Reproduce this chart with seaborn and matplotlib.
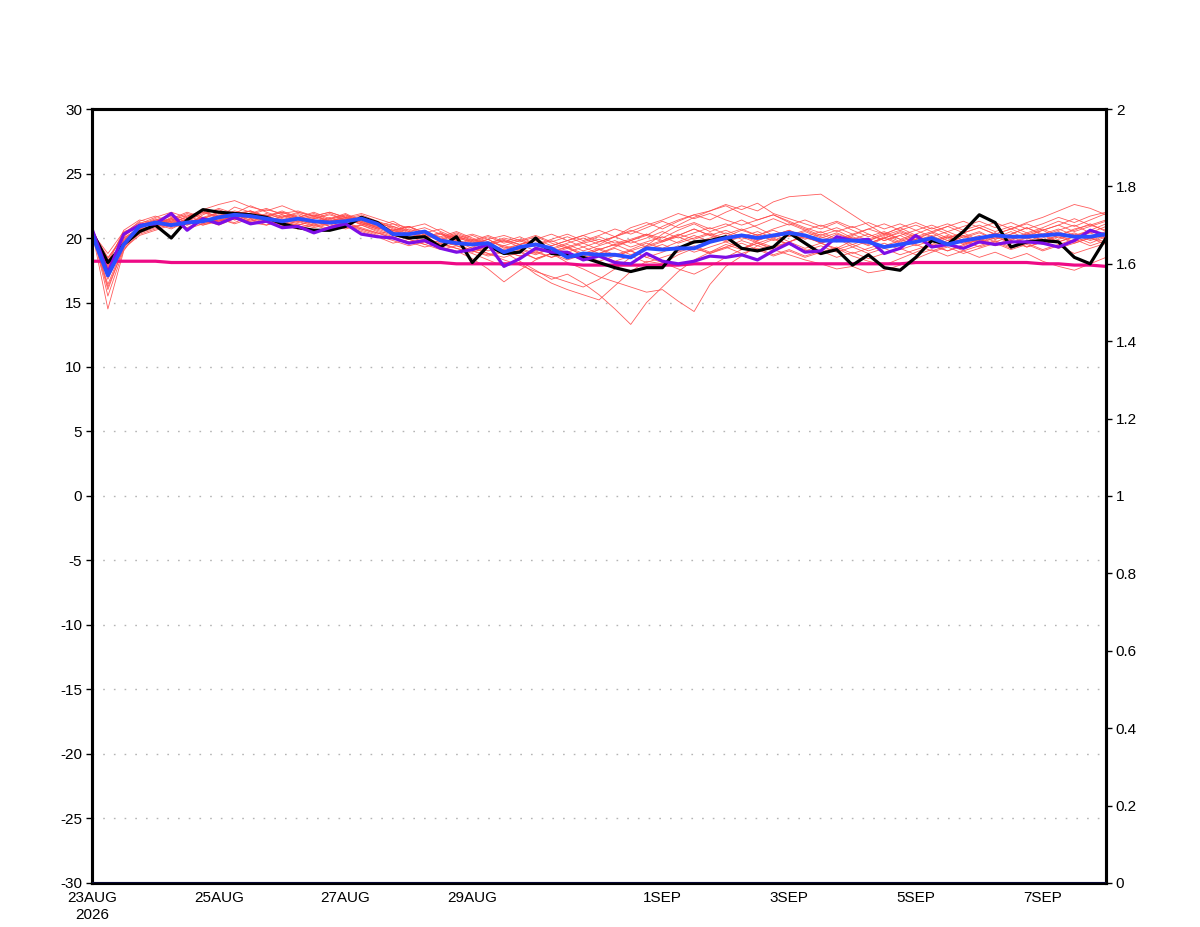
import numpy as np
import pandas as pd
import matplotlib
matplotlib.use("Agg")
import matplotlib.pyplot as plt
import seaborn as sns

# 6-hourly time axis, 23AUG2026 00Z .. 8SEP2026 00Z
times = pd.date_range("2026-08-23", periods=65, freq="6h")

tick_dates = ["2026-08-23", "2026-08-25", "2026-08-27", "2026-08-29",
              "2026-09-01", "2026-09-03", "2026-09-05", "2026-09-07"]
tick_labels = ["23AUG\n2026", "25AUG", "27AUG", "29AUG", "1SEP", "3SEP", "5SEP", "7SEP"]

black_line = [20.5, 18.1, 19.5, 20.5, 21.0, 20.0, 21.4, 22.2, 22.0, 21.9, 21.8, 21.6, 21.1,
              20.8, 20.6, 20.6, 20.9, 21.6, 21.2, 20.3, 20.0, 20.1, 19.3, 20.1, 18.1, 19.4,
              18.8, 18.9, 20.0, 18.8, 18.7, 18.5, 18.1, 17.7, 17.4, 17.7, 17.7, 19.2, 19.7,
              19.8, 20.1, 19.2, 19.0, 19.3, 20.4, 19.6, 18.8, 19.1, 17.9, 18.7, 17.7, 17.5,
              18.5, 19.8, 19.5, 20.5, 21.8, 21.2, 19.3, 19.7, 19.8, 19.7, 18.5, 18.0, 20.0]

blue_line = [20.3, 17.1, 19.5, 20.9, 21.2, 21.0, 21.2, 21.3, 21.6, 21.8, 21.7, 21.5, 21.3,
             21.5, 21.3, 21.2, 21.3, 21.5, 21.1, 20.3, 20.3, 20.5, 19.8, 19.6, 19.5, 19.6,
             18.9, 19.3, 19.5, 19.2, 18.5, 18.8, 18.7, 18.7, 18.5, 19.2, 19.1, 19.2, 19.2,
             19.7, 20.0, 20.2, 20.0, 20.2, 20.4, 20.2, 19.8, 19.8, 19.8, 19.7, 19.3, 19.5,
             19.7, 20.0, 19.5, 19.8, 20.0, 20.2, 20.1, 20.1, 20.2, 20.3, 20.1, 20.1, 20.3]

purple_line = [20.7, 17.3, 20.3, 21.0, 21.1, 21.9, 20.6, 21.5, 21.1, 21.6, 21.1, 21.3, 20.8,
               20.9, 20.4, 20.8, 21.1, 20.3, 20.1, 20.0, 19.6, 19.8, 19.2, 18.9, 19.1, 19.5,
               17.8, 18.4, 19.2, 18.9, 18.9, 18.3, 18.6, 18.1, 18.0, 18.8, 18.2, 18.0, 18.2,
               18.6, 18.5, 18.7, 18.3, 19.0, 19.6, 18.9, 19.0, 20.1, 19.8, 19.9, 18.8, 19.2,
               20.2, 19.3, 19.5, 19.2, 19.7, 19.5, 19.7, 19.7, 19.6, 19.3, 19.8, 20.6, 20.2]

pink_line = [18.2, 18.2, 18.2, 18.2, 18.2, 18.1, 18.1, 18.1, 18.1, 18.1, 18.1, 18.1, 18.1,
             18.1, 18.1, 18.1, 18.1, 18.1, 18.1, 18.1, 18.1, 18.1, 18.1, 18.0, 18.0, 18.0,
             18.0, 18.0, 18.0, 18.0, 18.0, 17.9, 17.9, 17.9, 17.9, 17.9, 17.9, 17.9, 18.0,
             18.0, 18.0, 18.0, 18.0, 18.0, 18.0, 18.0, 18.0, 18.0, 18.0, 18.0, 18.0, 18.0,
             18.1, 18.1, 18.1, 18.1, 18.1, 18.1, 18.1, 18.1, 18.0, 18.0, 17.9, 17.9, 17.8]

# right-axis series lying on zero
bottom_line = [0.0, 0.0, 0.0, 0.0, 0.0, 0.0, 0.0, 0.0, 0.0, 0.0, 0.0, 0.0, 0.0,
               0.0, 0.0, 0.0, 0.0, 0.0, 0.0, 0.0, 0.0, 0.0, 0.0, 0.0, 0.0, 0.0,
               0.0, 0.0, 0.0, 0.0, 0.0, 0.0, 0.0, 0.0, 0.0, 0.0, 0.0, 0.0, 0.0,
               0.0, 0.0, 0.0, 0.0, 0.0, 0.0, 0.0, 0.0, 0.0, 0.0, 0.0, 0.0, 0.0,
               0.0, 0.0, 0.0, 0.0, 0.0, 0.0, 0.0, 0.0, 0.0, 0.0, 0.0, 0.0, 0.0]

members = [
    [20.5, 14.5, 19.0, 20.8, 21.2, 21.5, 21.0, 21.8, 22.3, 21.9, 22.1, 21.6, 21.4,
     21.8, 21.2, 21.5, 21.9, 21.3, 20.8, 20.5, 20.9, 20.2, 19.8, 20.1, 19.6, 19.9,
     19.2, 19.5, 19.8, 19.0, 19.3, 18.6, 19.1, 19.5, 19.8, 20.3, 20.0, 20.6, 21.1,
     20.5, 20.9, 21.4, 20.8, 20.2, 20.6, 20.0, 19.7, 20.3, 19.9, 19.4, 20.0, 20.4,
     19.8, 20.2, 19.6, 20.1, 20.5, 19.9, 20.3, 20.8, 20.2, 20.6, 21.0, 20.4, 20.9],
    [20.4, 16.0, 19.3, 20.6, 20.9, 21.3, 21.8, 21.2, 21.6, 22.0, 21.5, 21.8, 21.2,
     21.0, 21.4, 20.9, 21.2, 20.7, 20.4, 20.0, 19.7, 19.9, 19.3, 19.6, 19.0, 18.6,
     18.9, 18.2, 17.5, 16.8, 17.2, 16.5, 15.6, 14.5, 13.3, 15.0, 16.2, 17.4, 18.3,
     18.9, 19.5, 19.1, 19.8, 20.3, 19.7, 20.2, 19.6, 19.2, 19.8, 19.5, 20.1, 19.6,
     19.9, 20.4, 19.8, 20.2, 19.6, 20.0, 20.5, 19.9, 20.3, 19.7, 20.1, 20.6, 20.0],
    [20.6, 17.5, 20.2, 21.0, 21.5, 21.1, 21.7, 22.1, 21.6, 22.4, 22.0, 21.7, 22.1,
     21.6, 21.9, 21.4, 21.8, 21.2, 20.9, 21.3, 20.6, 20.1, 20.4, 19.8, 19.5, 19.9,
     19.3, 19.0, 18.4, 18.8, 18.1, 17.6, 17.0, 16.6, 16.2, 15.8, 16.0, 15.1, 14.3,
     16.4, 17.8, 18.6, 19.4, 19.0, 19.7, 20.2, 19.6, 20.0, 19.3, 19.8, 20.3, 19.7,
     20.1, 19.5, 20.0, 20.4, 19.8, 20.2, 19.6, 20.1, 20.6, 20.0, 20.4, 19.9, 20.3],
    [20.5, 18.2, 20.4, 21.2, 21.0, 21.6, 21.3, 21.9, 22.2, 21.7, 21.9, 22.3, 21.8,
     21.5, 21.2, 21.6, 21.1, 21.4, 20.9, 20.6, 20.2, 20.5, 19.9, 20.2, 19.7, 19.4,
     19.8, 19.5, 19.9, 20.3, 19.8, 20.2, 20.6, 20.1, 20.8, 21.2, 20.7, 21.3, 21.8,
     21.4, 22.0, 22.5, 22.1, 22.8, 23.2, 23.3, 23.4, 22.6, 21.8, 21.0, 20.3, 20.8,
     20.2, 19.7, 20.1, 19.5, 19.9, 20.4, 19.8, 20.3, 20.7, 20.2, 20.6, 21.1, 20.5],
    [20.5, 17.0, 19.8, 20.9, 21.4, 21.8, 21.4, 22.0, 21.5, 21.9, 22.5, 22.0, 21.6,
     22.0, 21.7, 21.3, 21.6, 21.0, 21.3, 20.7, 20.3, 20.0, 19.6, 19.9, 19.4, 19.0,
     19.4, 19.1, 18.7, 19.2, 19.6, 20.0, 19.5, 20.1, 20.6, 20.2, 20.9, 21.4, 21.8,
     22.1, 22.6, 22.2, 22.7, 21.9, 21.5, 21.1, 20.7, 21.2, 20.6, 20.1, 20.5, 19.9,
     19.4, 19.8, 20.2, 19.6, 20.0, 19.5, 19.9, 20.4, 19.8, 20.2, 20.7, 21.0, 20.6],
    [20.4, 16.8, 19.6, 20.5, 21.1, 20.7, 21.3, 21.0, 21.4, 21.2, 21.7, 21.3, 21.0,
     21.3, 20.9, 21.2, 20.8, 21.0, 20.5, 20.1, 19.6, 19.9, 19.5, 19.2, 18.8, 18.3,
     17.8, 18.1, 17.2, 16.5, 16.0, 15.6, 15.2, 16.3, 17.4, 18.2, 18.0, 18.7, 19.2,
     18.8, 19.3, 19.8, 19.4, 19.9, 19.5, 19.1, 18.7, 19.2, 18.6, 18.2, 17.9, 18.4,
     18.9, 19.4, 19.0, 19.5, 19.9, 19.4, 19.8, 19.3, 19.7, 20.1, 19.6, 20.0, 19.7],
    [20.5, 18.5, 20.0, 20.7, 21.0, 21.4, 21.9, 21.5, 22.0, 21.6, 21.3, 21.7, 21.2,
     21.4, 21.0, 21.3, 21.7, 21.2, 20.8, 20.4, 20.7, 20.3, 19.9, 20.3, 19.8, 19.5,
     19.8, 19.3, 19.6, 19.1, 19.5, 19.0, 19.4, 19.8, 19.3, 19.7, 20.1, 19.6, 20.0,
     20.4, 19.9, 20.3, 19.8, 20.2, 20.6, 20.1, 20.5, 19.9, 20.3, 19.8, 20.2, 20.6,
     20.1, 20.5, 20.0, 20.4, 20.8, 20.3, 20.7, 21.2, 21.6, 22.1, 22.6, 22.3, 21.8],
    [20.6, 15.5, 19.1, 20.4, 20.8, 21.2, 20.8, 21.4, 21.1, 21.6, 21.2, 21.5, 21.1,
     20.8, 21.1, 20.7, 21.0, 20.6, 20.2, 19.8, 19.4, 19.7, 19.2, 18.9, 19.3, 18.8,
     18.5, 18.9, 18.4, 18.8, 18.3, 18.7, 18.2, 18.6, 19.0, 18.5, 18.9, 19.4, 18.9,
     19.3, 19.7, 19.2, 19.6, 19.1, 18.7, 18.3, 18.0, 17.6, 17.8, 17.3, 17.5, 17.9,
     18.4, 18.9, 19.3, 18.8, 19.2, 19.6, 19.1, 19.5, 19.0, 19.4, 18.8, 19.2, 19.6],
    [20.5, 17.8, 20.1, 21.1, 21.6, 22.0, 21.6, 22.2, 22.6, 22.9, 22.4, 22.1, 22.5,
     22.0, 21.7, 22.0, 21.6, 21.9, 21.5, 21.1, 20.8, 21.1, 20.5, 20.0, 19.7, 20.1,
     19.6, 19.9, 19.4, 19.8, 19.3, 19.7, 20.1, 19.6, 19.9, 20.3, 19.8, 20.2, 20.7,
     20.2, 20.6, 20.1, 20.5, 20.0, 20.4, 19.9, 20.3, 19.8, 20.2, 20.7, 20.3, 20.8,
     21.2, 20.7, 21.1, 20.6, 21.0, 20.5, 20.9, 20.4, 20.8, 21.3, 20.9, 21.4, 21.9],
    [20.4, 18.8, 20.5, 20.9, 21.3, 20.9, 21.5, 21.1, 21.4, 21.8, 21.4, 21.9, 21.5,
     21.2, 21.5, 21.9, 21.4, 21.7, 21.2, 20.8, 20.3, 20.6, 20.0, 20.4, 19.9, 19.6,
     20.0, 19.7, 20.1, 19.6, 19.2, 19.6, 19.1, 19.5, 19.0, 19.4, 19.8, 20.3, 19.9,
     20.3, 19.8, 20.2, 19.7, 19.3, 19.7, 19.2, 19.6, 20.0, 19.5, 19.9, 20.4, 19.9,
     20.3, 20.8, 20.3, 19.8, 20.2, 19.7, 20.1, 19.6, 20.0, 20.5, 20.0, 20.4, 19.9],
    [20.6, 17.2, 19.9, 20.7, 21.3, 21.7, 21.2, 21.6, 21.3, 21.7, 22.1, 21.7, 22.0,
     21.5, 21.8, 21.3, 21.5, 21.1, 20.7, 20.9, 20.4, 20.0, 20.3, 19.7, 19.2, 18.8,
     18.3, 17.9, 17.4, 17.0, 16.6, 16.2, 16.8, 17.6, 18.5, 19.4, 20.3, 21.0, 21.6,
     22.1, 22.5, 21.9, 21.4, 21.8, 21.2, 20.7, 20.2, 20.6, 20.0, 19.6, 20.0, 19.5,
     19.9, 19.4, 19.8, 20.2, 19.7, 20.1, 19.6, 20.0, 19.5, 19.9, 20.3, 19.8, 20.2],
    [20.5, 17.9, 19.7, 20.6, 21.0, 21.4, 21.1, 21.5, 21.9, 21.4, 21.8, 21.3, 21.7,
     21.3, 21.6, 21.2, 21.5, 21.8, 21.3, 20.9, 20.5, 20.1, 20.4, 19.8, 20.2, 19.7,
     19.4, 19.8, 19.3, 18.9, 19.3, 18.8, 19.2, 18.7, 19.1, 19.6, 19.2, 19.7, 20.2,
     19.7, 20.1, 20.6, 20.2, 20.7, 21.1, 20.6, 21.0, 20.5, 20.9, 20.3, 19.8, 20.2,
     19.6, 20.0, 19.5, 19.0, 19.4, 19.8, 19.3, 19.7, 20.2, 19.7, 20.1, 19.6, 20.1],
    [20.4, 16.4, 19.4, 20.5, 20.9, 21.3, 21.0, 21.4, 21.0, 21.5, 21.1, 21.4, 21.0,
     20.7, 21.0, 20.6, 20.9, 20.5, 20.1, 19.6, 19.9, 19.5, 19.1, 19.4, 19.0, 18.7,
     19.0, 18.6, 18.9, 18.5, 18.9, 19.3, 18.8, 19.2, 18.7, 19.1, 19.5, 19.0, 19.4,
     18.9, 19.3, 18.8, 19.2, 18.7, 19.1, 18.6, 19.0, 18.5, 18.9, 18.4, 18.8, 19.2,
     18.7, 19.1, 18.6, 19.0, 18.5, 18.9, 18.4, 18.8, 18.2, 17.8, 17.5, 18.0, 18.5],
    [20.5, 18.4, 20.3, 21.3, 21.7, 21.2, 21.6, 22.0, 21.7, 22.1, 21.8, 22.2, 21.9,
     22.1, 21.7, 22.0, 21.6, 21.3, 21.0, 20.6, 20.9, 20.4, 20.7, 20.1, 19.8, 20.2,
     19.7, 20.1, 19.5, 19.9, 20.3, 19.8, 20.2, 20.7, 20.3, 20.8, 21.3, 20.8, 21.2,
     20.7, 21.1, 20.6, 21.0, 21.5, 21.0, 21.4, 20.9, 21.3, 20.8, 21.2, 20.7, 21.1,
     20.6, 21.0, 20.5, 20.9, 21.3, 20.8, 21.2, 20.7, 21.1, 21.6, 21.2, 21.7, 22.0],
    [20.6, 17.6, 20.0, 20.8, 21.2, 20.8, 21.2, 21.6, 21.2, 21.6, 21.3, 21.6, 21.2,
     21.5, 21.1, 21.4, 21.0, 20.7, 20.3, 20.6, 20.1, 19.7, 19.3, 19.0, 18.4, 17.6,
     16.6, 17.5, 18.3, 18.8, 19.2, 18.7, 19.1, 18.6, 19.0, 18.5, 18.1, 17.6, 17.2,
     17.8, 18.5, 19.1, 19.6, 19.2, 19.7, 20.1, 19.6, 19.1, 19.5, 19.0, 19.4, 19.8,
     20.2, 19.7, 20.1, 19.6, 20.0, 20.4, 19.9, 20.3, 19.8, 20.2, 19.7, 20.1, 20.5],
    [20.5, 17.4, 20.2, 21.0, 21.4, 21.0, 21.5, 21.2, 21.8, 21.4, 21.7, 21.3, 21.6,
     21.9, 21.5, 21.8, 21.4, 21.1, 20.7, 20.3, 20.0, 20.3, 19.8, 19.5, 19.9, 19.4,
     19.1, 19.5, 19.0, 19.4, 19.8, 20.2, 19.7, 20.1, 20.5, 21.0, 21.4, 21.9, 21.5,
     21.9, 21.4, 21.0, 21.4, 21.8, 21.3, 20.8, 20.4, 20.8, 20.3, 20.7, 21.1, 20.6,
     21.0, 20.5, 20.9, 21.3, 20.8, 21.2, 20.7, 21.1, 20.6, 21.0, 21.5, 21.0, 21.4],
    [20.4, 17.1, 19.5, 20.3, 20.7, 21.1, 20.7, 21.1, 21.5, 21.1, 21.5, 21.0, 21.3,
     21.0, 21.3, 20.9, 21.2, 20.8, 20.4, 20.0, 19.7, 19.3, 19.6, 19.2, 18.9, 19.3,
     18.9, 19.2, 18.8, 19.2, 18.7, 18.3, 18.7, 18.2, 18.6, 18.1, 18.5, 18.9, 19.3,
     18.8, 19.2, 19.6, 19.1, 18.6, 19.0, 18.5, 18.9, 19.3, 18.8, 19.2, 19.6, 19.1,
     19.5, 19.0, 19.4, 19.8, 19.3, 19.7, 19.2, 19.6, 19.1, 19.5, 19.9, 19.4, 19.8],
    [20.6, 18.0, 20.6, 21.4, 21.1, 21.5, 22.0, 21.6, 22.0, 21.5, 21.9, 21.5, 21.8,
     21.4, 21.7, 21.3, 21.6, 21.2, 20.8, 21.1, 20.5, 20.8, 20.3, 20.0, 20.3, 19.9,
     20.2, 19.8, 20.2, 19.7, 20.1, 19.6, 19.9, 19.4, 19.8, 20.2, 19.7, 20.1, 19.6,
     20.0, 20.4, 19.9, 20.3, 19.8, 20.2, 20.6, 20.1, 19.7, 20.1, 19.6, 20.0, 20.5,
     20.0, 20.4, 20.9, 20.4, 20.8, 20.3, 20.7, 20.2, 20.6, 21.0, 20.5, 20.9, 21.3],
    [20.5, 16.2, 19.2, 20.2, 20.6, 21.0, 21.4, 21.0, 21.3, 21.7, 21.2, 21.0, 21.4,
     21.1, 20.8, 21.1, 20.7, 21.0, 20.6, 20.2, 19.9, 19.5, 19.8, 19.4, 19.0, 19.4,
     19.0, 18.6, 19.0, 18.5, 18.9, 18.4, 18.8, 19.3, 19.8, 19.3, 19.7, 20.2, 20.7,
     20.2, 19.7, 20.1, 19.6, 20.0, 19.5, 19.0, 19.4, 18.9, 19.3, 18.8, 19.2, 18.7,
     19.1, 19.5, 19.0, 19.4, 19.9, 19.4, 19.8, 19.3, 19.7, 19.2, 19.6, 20.0, 19.5],
    [20.5, 17.7, 19.8, 20.6, 21.0, 21.5, 21.1, 21.6, 21.3, 21.8, 22.1, 21.6, 22.0,
     21.6, 22.0, 21.5, 21.8, 21.4, 21.0, 20.6, 20.9, 20.4, 20.1, 20.5, 20.0, 19.6,
     19.9, 19.5, 19.9, 19.4, 19.8, 19.3, 19.7, 20.1, 19.6, 20.0, 20.5, 20.0, 20.4,
     20.8, 20.3, 20.7, 20.2, 20.6, 20.1, 20.5, 20.0, 20.4, 19.9, 20.3, 19.8, 20.2,
     20.6, 20.1, 20.5, 20.0, 20.4, 19.9, 20.3, 20.8, 20.3, 20.7, 20.2, 20.6, 21.1],
]

ens = pd.concat(
    [pd.DataFrame({"time": times, "value": m, "member": k}) for k, m in enumerate(members)],
    ignore_index=True,
)

sns.set_style("white")
plt.rcParams["font.family"] = ["Liberation Sans", "DejaVu Sans"]
plt.rcParams["axes.unicode_minus"] = False

fig = plt.figure(figsize=(12, 9.27), dpi=100)
ax = fig.add_axes([0.0767, 0.0475, 0.8450, 0.8349])

# dotted horizontal grid
for yv in range(-25, 30, 5):
    ax.axhline(yv, color="#b4b4b4", lw=1.0, ls=(0, (1.2, 6.5)), zorder=0)

sns.lineplot(data=ens, x="time", y="value", units="member", estimator=None,
             color="#ff4a4a", lw=0.6, alpha=0.9, ax=ax, zorder=2)
sns.lineplot(x=times, y=pink_line, color="#ee0a86", lw=2.3, ax=ax, zorder=3)
sns.lineplot(x=times, y=black_line, color="black", lw=2.3, ax=ax, zorder=4)
sns.lineplot(x=times, y=purple_line, color="#7d0ee6", lw=2.3, ax=ax, zorder=5)
sns.lineplot(x=times, y=blue_line, color="#2a4dff", lw=2.8, ax=ax, zorder=6)

ax.set_xlim(pd.Timestamp("2026-08-23"), pd.Timestamp("2026-09-08"))
ax.set_ylim(-30, 30)
ax.set_yticks(range(-30, 31, 5))
ax.set_xticks([pd.Timestamp(d) for d in tick_dates])
ax.set_xticklabels(tick_labels)
ax.set_xlabel("")
ax.set_ylabel("")

ax2 = ax.twinx()
sns.lineplot(x=times, y=bottom_line, color="#0a0a3c", lw=2.0, ax=ax2, zorder=3)
ax2.set_ylim(0, 2)
ax2.set_yticks(np.round(np.arange(0, 2.01, 0.2), 1))
ax2.set_yticklabels(["0", "0.2", "0.4", "0.6", "0.8", "1", "1.2", "1.4", "1.6", "1.8", "2"])
ax2.set_ylabel("")

for a in (ax, ax2):
    for s in a.spines.values():
        s.set_linewidth(2.2)
        s.set_color("black")
    a.tick_params(axis="both", direction="out", length=4, width=1.0,
                  labelsize=11, colors="black", pad=3)
ax.tick_params(axis="x", length=5, pad=1)
ax.tick_params(axis="y", left=True)
ax2.tick_params(axis="y", right=True)

fig.savefig("out.png", dpi=100)
